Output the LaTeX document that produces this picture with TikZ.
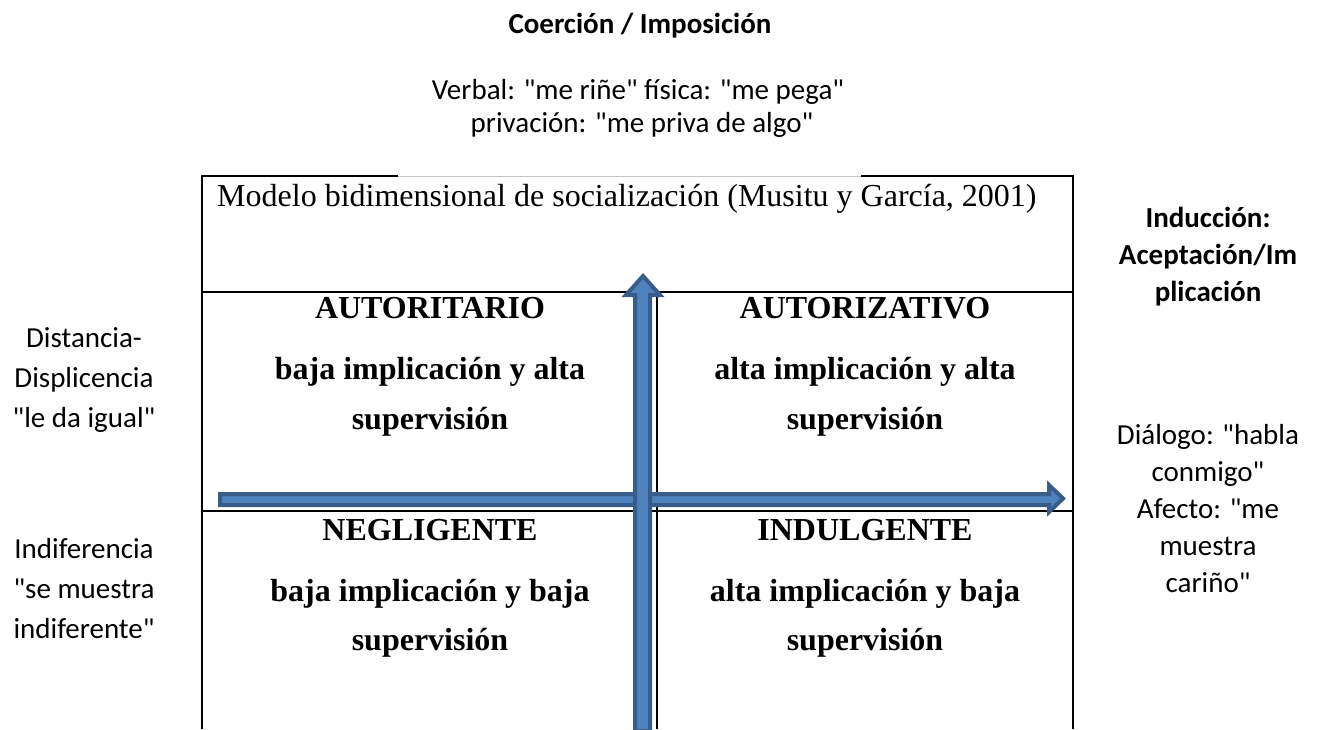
\documentclass[tikz,border=0pt]{standalone}
\usepackage{fontspec}
\setmainfont{Liberation Serif}
\newfontfamily\calibri{Carlito}
\usepackage{tikz}
\usetikzlibrary{positioning}
\definecolor{flechaborde}{HTML}{385D8A}
\definecolor{flechafondo}{HTML}{4F81BD}

\begin{document}
\begin{tikzpicture}[
  x=1pt, y=-1pt,
  lado/.style={font=\calibri\fontsize{29}{33}\selectfont, anchor=base, inner sep=0pt},
  ladob/.style={lado, font=\calibri\bfseries\fontsize{29}{33}\selectfont},
  cuad/.style={font=\bfseries\fontsize{32}{36}\selectfont, anchor=base, inner sep=0pt},
  linea/.style={draw=black, line width=2.2pt},
  flecha/.style={fill=flechafondo, draw=flechaborde, line width=4pt, line join=miter},
]
  \useasboundingbox (0,0) rectangle (1318,729);

  % marco del modelo
  \draw[linea] (398,176) -- (202,176) -- (202,729);
  \draw[gray!45, line width=1pt] (398,176) -- (861,176);
  \draw[linea] (861,176) -- (1073,176) -- (1073,729);
  \draw[linea] (202,292) -- (1073,292);
  \draw[linea] (202,511) -- (1073,511);
  \draw[linea] (657,292) -- (657,729);

  % ejes
  \draw[flecha] (220,494) -- (1049,494) -- (1049,485) -- (1063,498.5)
    -- (1049,512) -- (1049,505) -- (220,505) -- cycle;
  \draw[flecha] (635,731) -- (635,295) -- (626,295) -- (643,276)
    -- (660,295) -- (650,295) -- (650,731) -- cycle;

  % arriba
  \node[ladob] (coercion) at (640,33) {Coerción / Imposición};
  \node[lado] (verbal) at (638,99) {Verbal: "me riñe" física: "me pega"};
  \node[lado] (privacion) at (642,132) {privación: "me priva de algo"};

  \node[anchor=base west, inner sep=0pt, font=\fontsize{32}{36}\selectfont] (titulo) at (217,206)
    {Modelo bidimensional de socialización (Musitu y García, 2001)};

  % cuadrantes
  \node[cuad] (autoritario) at (430,318) {AUTORITARIO};
  \node[cuad] (autoritarioa) at (430,379) {baja implicación y alta};
  \node[cuad] (autoritariob) at (430,429) {supervisión};

  \node[cuad] (autorizativo) at (865,318) {AUTORIZATIVO};
  \node[cuad] (autorizativoa) at (865,379) {alta implicación y alta};
  \node[cuad] (autorizativob) at (865,429) {supervisión};

  \node[cuad] (negligente) at (430,540) {NEGLIGENTE};
  \node[cuad] (negligentea) at (430,601) {baja implicación y baja};
  \node[cuad] (negligenteb) at (430,650) {supervisión};

  \node[cuad] (indulgente) at (865,540) {INDULGENTE};
  \node[cuad] (indulgentea) at (865,601) {alta implicación y baja};
  \node[cuad] (indulgenteb) at (865,650) {supervisión};

  % izquierda
  \node[lado] (distancia) at (84,347) {Distancia-};
  \node[lado] (displicencia) at (84,387) {Displicencia};
  \node[lado] (igual) at (84,427) {"le da igual"};

  \node[lado] (indiferencia) at (84,558) {Indiferencia};
  \node[lado] (muestra) at (84,598) {"se muestra};
  \node[lado] (indiferente) at (84,638) {indiferente"};

  % derecha
  \node[ladob] (induccion) at (1208,227) {Inducción:};
  \node[ladob] (aceptacion) at (1208,264) {Aceptación/Im};
  \node[ladob] (implicacion) at (1208,301) {plicación};

  \node[lado] (dialogo) at (1208,444) {Diálogo: "habla};
  \node[lado] (conmigo) at (1208,481) {conmigo"};
  \node[lado] (afecto) at (1208,518) {Afecto: "me};
  \node[lado] (muestrad) at (1208,555) {muestra};
  \node[lado] (carino) at (1208,592) {cariño"};
\end{tikzpicture}
\end{document}
